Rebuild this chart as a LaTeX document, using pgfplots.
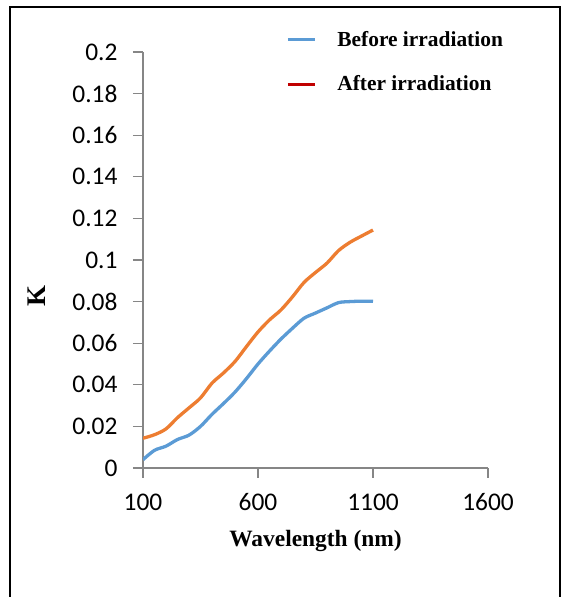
\documentclass[border=0pt]{standalone}
\usepackage{fontspec}
\setmainfont{Liberation Serif}
\newfontfamily\carlito{Carlito}
\usepackage{pgfplots}
\pgfplotsset{compat=1.18}

\definecolor{exblue}{RGB}{91,155,213}
\definecolor{exorange}{RGB}{237,125,49}
\definecolor{exred}{RGB}{192,0,0}
\definecolor{axgray}{RGB}{134,134,134}

\begin{document}
\begin{tikzpicture}
\useasboundingbox (0,0) rectangle (565bp,597bp);
% outer frame (bottom edge runs off the page)
\draw[line width=2bp] (10bp,-5bp) -- (10bp,590bp) -- (560bp,590bp) -- (560bp,-5bp);
\begin{axis}[
    at={(143bp,129bp)}, anchor=south west,
    scale only axis,
    width=345bp, height=416bp,
    xmin=100, xmax=1600,
    ymin=0, ymax=0.2,
    axis lines*=left,
    axis line style={axgray, line width=1.2bp},
    every tick/.style={axgray, line width=1.2bp},
    tick align=outside,
    major tick length=10bp,
    xtick={100,600,1100,1600},
    ytick={0,0.02,0.04,0.06,0.08,0.1,0.12,0.14,0.16,0.18,0.2},
    ticklabel style={font=\carlito\fontsize{25.5}{30}\selectfont},
    yticklabel style={xshift=-12bp},
    xticklabel style={yshift=-12bp},
    /pgf/number format/assume math mode=true,
    /pgf/number format/1000 sep={},
    /pgf/number format/fixed,
    /pgf/number format/precision=2,
    xlabel={Wavelength (nm)},
    ylabel={K},
    label style={font=\bfseries\fontsize{23.5}{28}\selectfont},
    ylabel style={font=\bfseries\fontsize{27}{30}\selectfont, at={(axis description cs:-0.307,0.413)}, anchor=center},
    xlabel style={at={(axis description cs:0.5,-0.1875)}, anchor=base},
    legend style={draw=none, fill=none, at={(axis description cs:0.415,1.055)}, anchor=north west,
        font=\bfseries\fontsize{21.5}{25}\selectfont, row sep=24bp, inner sep=0pt},
    legend cell align=left,
    legend image code/.code={\draw[#1] (0bp,0bp) -- (27bp,0bp); \path (46bp,0bp);},
]
\addplot[exblue, line width=3.3bp, smooth, forget plot] coordinates {
(100,0.0040) (150,0.0085) (200,0.0105) (250,0.0137) (300,0.0158) (350,0.0200)
(400,0.0258) (450,0.0310) (500,0.0365) (550,0.0430) (600,0.0500) (650,0.0562)
(700,0.0620) (750,0.0672) (800,0.0720) (850,0.0745) (900,0.0770) (950,0.0795)
(1000,0.0800) (1050,0.0802) (1100,0.0802)
};
\addplot[exorange, line width=3.3bp, smooth, forget plot] coordinates {
(100,0.0143) (150,0.0160) (200,0.0188) (250,0.0242) (300,0.0289) (350,0.0337)
(400,0.0408) (450,0.0457) (500,0.0512) (550,0.0584) (600,0.0654) (650,0.0712)
(700,0.0760) (750,0.0823) (800,0.0892) (850,0.0940) (900,0.0985) (950,0.1045)
(1000,0.1085) (1050,0.1115) (1100,0.1144)
};
\addlegendimage{exblue, line width=3bp}
\addlegendentry{Before irradiation}
\addlegendimage{exred, line width=3bp}
\addlegendentry{After irradiation}
\end{axis}
\end{tikzpicture}
\end{document}
